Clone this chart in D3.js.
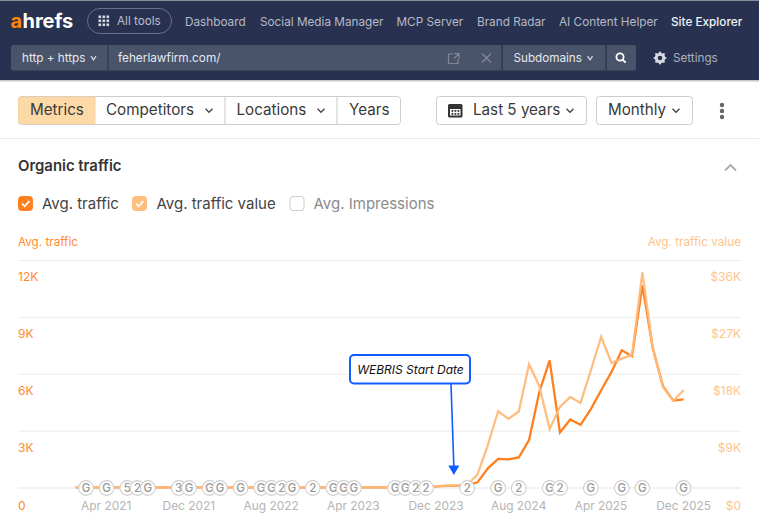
<!DOCTYPE html>
<html><head><meta charset="utf-8">
<script src="https://cdn.jsdelivr.net/npm/d3@7/dist/d3.min.js"></script>
<style>
html,body{margin:0;padding:0;background:#fff;overflow:hidden}
svg{display:block;font-family:Inter,"Noto Sans",sans-serif}
</style></head><body><svg id="c" width="759" height="524"></svg>
<script>
// ---------- data ----------
const startYear = 2021, startMonth = 0;
const traffic = [40,40,40,40,40,40,40,40,40,40,40,40,40,40,40,40,40,40,40,40,40,40,40,40,40,40,40,40,40,40,40,40,40,60,70,90,110,130,150,300,1035,1540,1510,1610,2525,5070,6735,2930,3615,3330,4160,5160,6120,7260,6950,10685,7400,5370,4610,4670];
const trafficValue = [150,150,150,150,150,150,150,150,150,150,150,150,150,150,150,150,150,150,150,150,150,150,150,150,150,150,150,150,150,150,150,150,150,200,240,300,360,420,480,2160,6780,12150,10950,12105,19575,16110,9315,12840,14400,13470,18630,23940,19800,20475,21105,34110,22200,15990,13800,15480];
const trafficTicks = [0,3000,6000,9000,12000];
const valueTicks = [0,9000,18000,27000,36000];
const xTickMonths = [3,11,19,27,35,43,51,59];
const pinMonths = [1,3,5,6,7,10,11,13,14,16,18,19,20,21,23,25,26,27,31,32,33,34,38,41,43,46,47,50,53,55,59];
const pinLabels = ["G","G","5","2","G","3","G","G","G","G","G","G","2","G","2","G","G","G","G","G","2","2","2","G","2","G","2","G","G","G","G"];
const navItems = ["Dashboard","Social Media Manager","MCP Server","Brand Radar","AI Content Helper","Site Explorer"];
const navX = [185,260,396.5,477,559,671];
const tabLabels = ["Metrics","Competitors","Locations","Years"];
const legendLabels = ["Avg. traffic","Avg. traffic value","Avg. Impressions"];
const annotationText = "WEBRIS Start Date";
const annotationMonth = 36.7;

// ---------- scales ----------
const svg = d3.select("#c");
const monthDate = i => new Date(startYear, startMonth + i, 1);
const x = d3.scaleTime().domain([monthDate(0), monthDate(59)]).range([75.7, 683.6]);
const xi = d3.scaleLinear().domain([0,59]).range([75.7,683.6]);
const yL = d3.scaleLinear().domain([0,12000]).range([488,260.5]);
const yR = d3.scaleLinear().domain([0,36000]).range([488,260.5]);

const fmtK = v => v === 0 ? "0" : (v/1000) + "K";
const fmtD = v => v === 0 ? "$0" : "$" + (v/1000) + "K";

function text(g,xp,yp,s,o={}){
  return g.append("text").attr("x",xp).attr("y",yp).text(s)
    .attr("font-size",o.size||13).attr("fill",o.fill||"#333")
    .attr("text-anchor",o.anchor||"start").attr("font-weight",o.weight||400)
    .attr("font-style",o.style||"normal");
}
function chevron(g,cx,cy,col,w=3.5){
  g.append("path").attr("d",`M${cx-w},${cy-1.8}L${cx},${cy+1.8}L${cx+w},${cy-1.8}`)
   .attr("fill","none").attr("stroke",col).attr("stroke-width",1.3);
}

// ---------- header ----------
const hd = svg.append("g");
hd.append("rect").attr("width",759).attr("height",81).attr("fill","#283250");
hd.append("rect").attr("width",759).attr("height",1).attr("fill","#8a8f9c");
hd.append("rect").attr("y",80).attr("width",759).attr("height",1.5).attr("fill","#c5c8cf");
text(hd,10.5,27.5,"a",{size:20,weight:700,fill:"#ff8800"});
text(hd,22.5,27.5,"hrefs",{size:20,weight:700,fill:"#fff"});
hd.append("rect").attr("x",87.5).attr("y",8.5).attr("width",84).attr("height",25).attr("rx",12.5)
  .attr("fill","none").attr("stroke","#66708a");
d3.range(9).forEach(i=>hd.append("rect").attr("x",98.5+(i%3)*4).attr("y",15.5+Math.floor(i/3)*4).attr("width",2.6).attr("height",2.6).attr("fill","#d5d8e0"));
text(hd,117,25,"All tools",{size:11.7,fill:"#b9becb"});
navItems.forEach((s,i)=>text(hd,navX[i],25.5,s,{size:11.75,fill:i===5?"#f2f3f5":"#b5bac8",weight:i===5?500:400}));
hd.append("rect").attr("x",11).attr("y",45).attr("width",625).attr("height",25.5).attr("rx",2).attr("fill","#495369");
hd.append("rect").attr("x",107.5).attr("y",45).attr("width",1).attr("height",25.5).attr("fill","#283250");
hd.append("rect").attr("x",501.5).attr("y",45).attr("width",1.2).attr("height",25.5).attr("fill","#283250");
hd.append("rect").attr("x",605.5).attr("y",45).attr("width",1.2).attr("height",25.5).attr("fill","#283250");
text(hd,22,62,"http + https",{size:11.7,fill:"#e6e8ee"});
chevron(hd,93.5,58,"#d5d8e0",2.5);
text(hd,118,62,"feherlawfirm.com/",{size:11.8,fill:"#e6e8ee"});
hd.append("path").attr("d","M453,54h-4.5v9.5h9.5v-4.5M454,53.5h5v5M459,53.5l-5,5").attr("fill","none").attr("stroke","#808899").attr("stroke-width",1.2);
hd.append("path").attr("d","M482,53.5l9,9M491,53.5l-9,9").attr("fill","none").attr("stroke","#808899").attr("stroke-width",1.3);
text(hd,513.5,62,"Subdomains",{size:11.7,fill:"#e6e8ee"});
chevron(hd,590,58,"#d5d8e0",2.5);
hd.append("circle").attr("cx",620).attr("cy",57).attr("r",3.6).attr("fill","none").attr("stroke","#fff").attr("stroke-width",1.8);
hd.append("path").attr("d","M622.6,59.6l3,3").attr("stroke","#fff").attr("stroke-width",2);
hd.append("circle").attr("cx",660).attr("cy",58).attr("r",3.8).attr("fill","none").attr("stroke","#d5d8e0").attr("stroke-width",3);
d3.range(8).forEach(i=>{const a=i*Math.PI/4;hd.append("circle").attr("cx",660+5.4*Math.cos(a)).attr("cy",58+5.4*Math.sin(a)).attr("r",1.1).attr("fill","#d5d8e0");});
text(hd,673,62,"Settings",{size:11.7,fill:"#aab0bf"});

// ---------- toolbar ----------
const tb = svg.append("g");
tb.append("rect").attr("x",18.5).attr("y",96.5).attr("width",382).attr("height",28).attr("rx",3).attr("fill","#fff").attr("stroke","#ccc");
tb.append("path").attr("d","M95,97H21.5a3,3 0 0 0 -3,3V121a3,3 0 0 0 3,3H95Z").attr("fill","#fdd9a8").attr("stroke","#f5d3a5");
[224.5,336.5].forEach(e=>tb.append("rect").attr("x",e).attr("y",97).attr("width",1).attr("height",27).attr("fill","#ccc"));
tabLabels.forEach((s,i)=>text(tb,[30,106,236.5,349][i],115,s,{size:15.2,fill:"#3a3a3a"}));
chevron(tb,209,110.5,"#444");chevron(tb,321,110.5,"#444");
tb.append("rect").attr("x",436.5).attr("y",96.5).attr("width",150).attr("height",28).attr("rx",3).attr("fill","#fff").attr("stroke","#ccc");
tb.append("rect").attr("x",448).attr("y",104).attr("width",14.5).attr("height",13.5).attr("rx",1.5).attr("fill","#333");
tb.append("rect").attr("x",450).attr("y",109).attr("width",10.5).attr("height",6.5).attr("fill","#fff");
[451.5,454.5,457.5].forEach(a=>[110,113].forEach(b=>tb.append("rect").attr("x",a).attr("y",b).attr("width",1.8).attr("height",1.8).attr("fill","#333")));
text(tb,473,115,"Last 5 years",{size:15.2,fill:"#3a3a3a"});
chevron(tb,570,110.5,"#444");
tb.append("rect").attr("x",596.5).attr("y",96.5).attr("width",96).attr("height",28).attr("rx",3).attr("fill","#fff").attr("stroke","#ccc");
text(tb,608,115,"Monthly",{size:15.2,fill:"#3a3a3a"});
chevron(tb,676,110.5,"#444");
[105,111,117].forEach(cy=>tb.append("circle").attr("cx",722).attr("cy",cy).attr("r",2.2).attr("fill","#666"));
tb.append("rect").attr("y",138).attr("width",759).attr("height",1).attr("fill","#e8e8e8");

// ---------- title & legend ----------
const lg = svg.append("g");
text(lg,18,171,"Organic traffic",{size:14.9,weight:600,fill:"#333"});
lg.append("path").attr("d","M725,170.5l5.5,-5.5l5.5,5.5").attr("fill","none").attr("stroke","#aaa").attr("stroke-width",1.8);
const boxX=[18,132,289.5], txtX=[42,156.5,313.5], boxC=["#ff8020","#ffbe7d",null], lblC=["#444","#444","#8b8b8b"];
legendLabels.forEach((s,i)=>{
  lg.append("rect").attr("x",boxX[i]+.5).attr("y",196.5).attr("width",14).attr("height",14).attr("rx",3)
    .attr("fill",boxC[i]||"#fff").attr("stroke",boxC[i]||"#ccc");
  if(boxC[i]) lg.append("path").attr("d",`M${boxX[i]+4},${203.5}l2.6,2.8l4.8,-5.2`).attr("fill","none").attr("stroke","#fff").attr("stroke-width",1.8);
  text(lg,txtX[i],209,s,{size:15,fill:lblC[i]});
});
text(lg,18,246,"Avg. traffic",{size:11.7,fill:"#ff8a30"});
text(lg,741,246,"Avg. traffic value",{size:11.75,fill:"#ffc48c",anchor:"end"});

// ---------- chart ----------
const ch = svg.append("g");
trafficTicks.forEach(t=>{
  ch.append("line").attr("x1",18).attr("x2",741).attr("y1",yL(t)).attr("y2",yL(t))
    .attr("stroke",t===0?"#eeeeee":"#ececec").attr("stroke-width",t===0?1.5:1);
  const lblY = t===0 ? 509.5 : yL(t)+20.5;
  text(ch,18,lblY,fmtK(t),{size:12,fill:"#ff8a30"});
});
valueTicks.forEach(t=>text(ch,741,t===0?509.5:yR(t)+20.5,fmtD(t),{size:12,fill:"#ffc48c",anchor:"end"}));
const xFmt = d3.timeFormat("%b %Y");
xTickMonths.forEach(m=>text(ch,x(monthDate(m)),509.5,xFmt(monthDate(m)),{size:11.9,fill:"#b5b5b5",anchor:"middle"}));

const lineT = d3.line().x((d,i)=>xi(i)).y(d=>yL(d));
const lineV = d3.line().x((d,i)=>xi(i)).y(d=>yR(d));
ch.append("path").datum(traffic).attr("d",lineT).attr("fill","none").attr("stroke","#ff7f1f").attr("stroke-width",2.3).attr("stroke-linejoin","miter");
ch.append("path").datum(trafficValue).attr("d",lineV).attr("fill","none").attr("stroke","#ffbb7a").attr("stroke-width",2.3).attr("stroke-linejoin","miter").attr("opacity",.95);

// pins
pinMonths.forEach((m,i)=>{
  const g = ch.append("g").attr("transform",`translate(${xi(m)},488)`);
  g.append("circle").attr("r",7.4).attr("fill","#fff").attr("stroke","#cfcfcf").attr("stroke-width",1.1);
  g.append("text").attr("text-anchor","middle").attr("y",4).attr("font-size",11.5).attr("font-weight",500).attr("fill","#9a9a9a").text(pinLabels[i]);
});

// annotation
const ax = xi(annotationMonth);
const an = svg.append("g");
an.append("line").attr("x1",451).attr("y1",384).attr("x2",ax).attr("y2",466).attr("stroke","#0f5cff").attr("stroke-width",1.6);
an.append("path").attr("d",`M${ax-5.5},465.5H${ax+5.5}L${ax},475Z`).attr("fill","#0f5cff");
an.append("rect").attr("x",350).attr("y",355).attr("width",120).attr("height",28.5).attr("rx",4).attr("fill","#fff").attr("stroke","#0f5cff").attr("stroke-width",2);
text(an,410.5,374,annotationText,{size:12,style:"italic",fill:"#111",anchor:"middle"});
</script></body></html>
